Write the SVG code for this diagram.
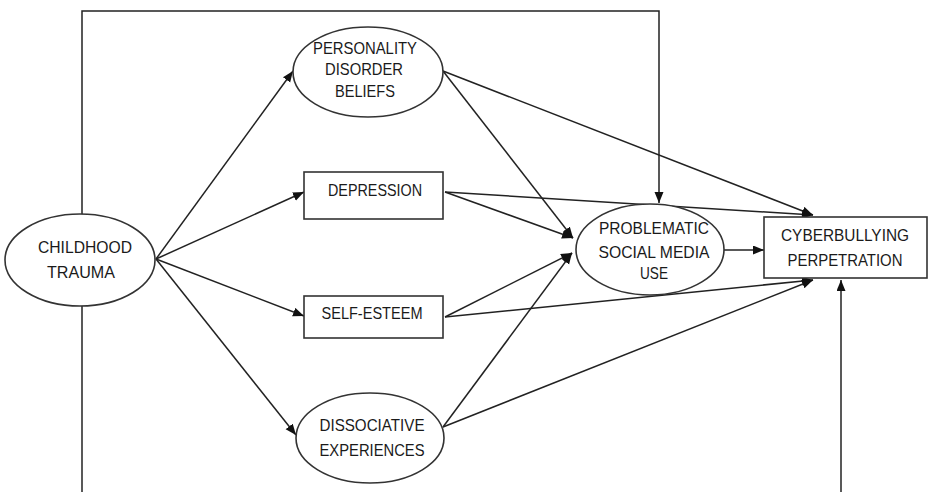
<svg xmlns="http://www.w3.org/2000/svg" width="928" height="492" viewBox="0 0 928 492">
<style>
.n{fill:#fff;stroke:#333;stroke-width:1.6}
.t{font-family:"Liberation Sans",Arial,sans-serif;font-size:16.5px;fill:#1a1a1a;text-anchor:middle}
.e{fill:none;stroke:#222;stroke-width:1.5}
</style>
<defs>
<marker id="ah" markerUnits="userSpaceOnUse" markerWidth="12" markerHeight="10" refX="11" refY="4.5" orient="auto">
<path d="M0,0 L11,4.5 L0,9 z" fill="#111"/>
</marker>
</defs>
<rect width="928" height="492" fill="#fff"/>
<g id="connectors">
<path class="e" d="M82,215 V11 H659 V203" marker-end="url(#ah)"/>
<path class="e" d="M82,306 V492"/>
<path class="e" d="M841,492 V280" marker-end="url(#ah)"/>
<line class="e" x1="156" y1="259" x2="293" y2="71" marker-end="url(#ah)"/>
<line class="e" x1="156" y1="259" x2="304" y2="192" marker-end="url(#ah)"/>
<line class="e" x1="156" y1="259" x2="304" y2="316" marker-end="url(#ah)"/>
<line class="e" x1="156" y1="259" x2="296" y2="435" marker-end="url(#ah)"/>
<line class="e" x1="443" y1="71" x2="573" y2="238" marker-end="url(#ah)"/>
<line class="e" x1="443" y1="71" x2="813" y2="215" marker-end="url(#ah)"/>
<line class="e" x1="445" y1="192" x2="573" y2="238" marker-end="url(#ah)"/>
<line class="e" x1="445" y1="192" x2="813" y2="215" marker-end="url(#ah)"/>
<line class="e" x1="445" y1="317" x2="572" y2="253" marker-end="url(#ah)"/>
<line class="e" x1="445" y1="317" x2="813" y2="280" marker-end="url(#ah)"/>
<line class="e" x1="443" y1="427" x2="572" y2="253" marker-end="url(#ah)"/>
<line class="e" x1="443" y1="427" x2="813" y2="280" marker-end="url(#ah)"/>
<line class="e" x1="724" y1="250" x2="764" y2="250" marker-end="url(#ah)"/>
</g>
<g id="childhood-trauma">
<ellipse class="n" cx="80" cy="260" rx="75" ry="46"/>
<text class="t" x="85" y="253" textLength="94" lengthAdjust="spacingAndGlyphs">CHILDHOOD</text>
<text class="t" x="81" y="278" textLength="68" lengthAdjust="spacingAndGlyphs">TRAUMA</text>
</g>
<g id="personality-disorder-beliefs">
<ellipse class="n" cx="368" cy="72" rx="75" ry="45"/>
<text class="t" x="365" y="54" textLength="104" lengthAdjust="spacingAndGlyphs">PERSONALITY</text>
<text class="t" x="364" y="75" textLength="78" lengthAdjust="spacingAndGlyphs">DISORDER</text>
<text class="t" x="365" y="97" textLength="60" lengthAdjust="spacingAndGlyphs">BELIEFS</text>
</g>
<g id="depression">
<rect class="n" x="304" y="172" width="139" height="47"/>
<text class="t" x="375" y="196" textLength="94" lengthAdjust="spacingAndGlyphs">DEPRESSION</text>
</g>
<g id="self-esteem">
<rect class="n" x="304" y="296" width="139" height="42"/>
<text class="t" x="372" y="319" textLength="101" lengthAdjust="spacingAndGlyphs">SELF-ESTEEM</text>
</g>
<g id="dissociative-experiences">
<ellipse class="n" cx="370" cy="438" rx="74" ry="45"/>
<text class="t" x="372" y="431" textLength="105" lengthAdjust="spacingAndGlyphs">DISSOCIATIVE</text>
<text class="t" x="372" y="456" textLength="105" lengthAdjust="spacingAndGlyphs">EXPERIENCES</text>
</g>
<g id="problematic-social-media-use">
<ellipse class="n" cx="650" cy="249.5" rx="74" ry="45.5"/>
<text class="t" x="654" y="234" textLength="110" lengthAdjust="spacingAndGlyphs">PROBLEMATIC</text>
<text class="t" x="654" y="258" textLength="111" lengthAdjust="spacingAndGlyphs">SOCIAL MEDIA</text>
<text class="t" x="654" y="279" textLength="28" lengthAdjust="spacingAndGlyphs">USE</text>
</g>
<g id="cyberbullying-perpetration">
<rect class="n" x="764" y="217" width="163" height="61"/>
<text class="t" x="845" y="241" textLength="128" lengthAdjust="spacingAndGlyphs">CYBERBULLYING</text>
<text class="t" x="845" y="266" textLength="115" lengthAdjust="spacingAndGlyphs">PERPETRATION</text>
</g>
</svg>
